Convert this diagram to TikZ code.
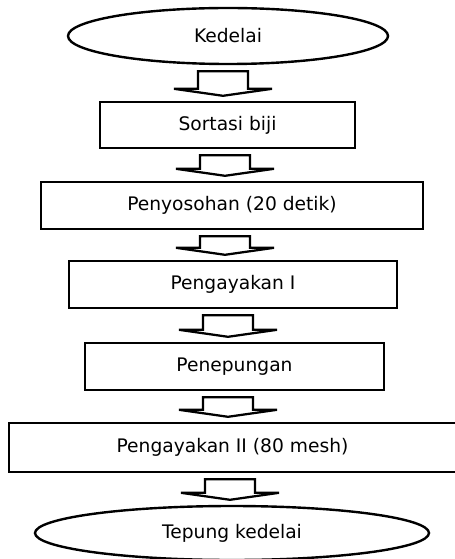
\documentclass[tikz,border=0pt]{standalone}
\usepackage{fontspec}
\setmainfont{DejaVu Sans}
\usetikzlibrary{shapes.geometric, calc}

\tikzset{
  stepbox/.style={draw, line width=1.8pt, rectangle, inner sep=0pt, font=\fontsize{14}{16}\selectfont},
  endcap/.style={draw, line width=1.8pt, ellipse, inner sep=0pt, font=\fontsize{14}{16}\selectfont},
  blockarrow/.style={draw, line width=1.7pt, line join=miter}
}

\begin{document}
\begin{tikzpicture}[x=0.75pt, y=-0.75pt]
  \useasboundingbox (0,0) rectangle (454,559);

  % start and end
  \node[endcap, minimum width=240pt, minimum height=42pt] (kedelai) at (228,36) {Kedelai};
  \node[endcap, minimum width=295.5pt, minimum height=40.5pt] (tepung) at (232,533) {Tepung kedelai};

  % process steps
  \node[stepbox, minimum width=191.25pt, minimum height=34.5pt] (sortasi) at (227.5,125) {Sortasi biji};
  \node[stepbox, minimum width=286.5pt, minimum height=35.25pt] (sosoh) at (232,205.5) {Penyosohan (20 detik)};
  \node[stepbox, minimum width=246pt, minimum height=35.25pt] (ayak) at (233,284.5) {Pengayakan I};
  \node[stepbox, minimum width=224.25pt, minimum height=35.25pt] (tepungkan) at (234.5,366.5) {Penepungan};
  \node[stepbox, minimum width=335.25pt, minimum height=36.75pt] (ayakdua) at (232.5,447.5) {Pengayakan II (80 mesh)};

  % block arrows
  \foreach \a/\b/\x in {kedelai/sortasi/223, sortasi/sosoh/225, sosoh/ayak/225,
                        ayak/tepungkan/228, tepungkan/ayakdua/228, ayakdua/tepung/230}{
    \coordinate (top) at ([yshift=-4.5pt]\x,0 |- \a.south);
    \coordinate (tip) at ([yshift=3.75pt]\x,0 |- \b.north);
    \draw[blockarrow] (top) ++(-25,0) -- ++(50,0) -- ($(tip)+(25,-7)$) -- ($(tip)+(49,-7)$)
      -- (tip) -- ($(tip)+(-49,-7)$) -- ($(tip)+(-25,-7)$) -- cycle;
  }
\end{tikzpicture}
\end{document}
